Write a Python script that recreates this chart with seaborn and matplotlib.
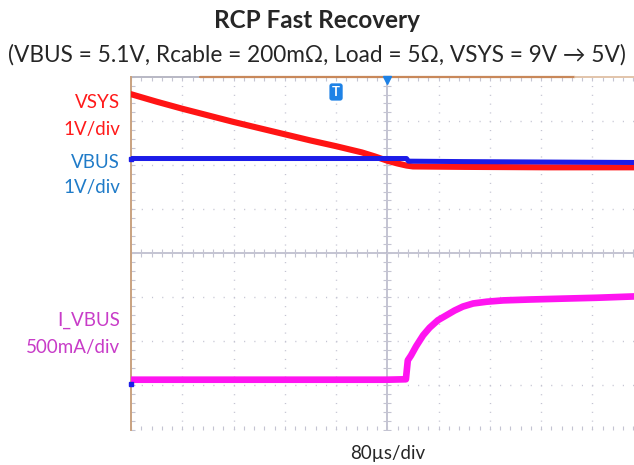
#--Import libraries--#
import numpy as np
import pandas as pd
import seaborn as sns
import matplotlib.pyplot as plt

#--Scope traces (time in us, level in divisions)--#
vsys_t = [-400, -360, -320, -280, -240, -200, -160, -120, -80, -40, -20, 0, 15, 30, 40, 120, 250, 385]
vsys_v = [3.61, 3.44, 3.28, 3.13, 2.98, 2.84, 2.70, 2.56, 2.43, 2.29, 2.20, 2.10, 2.04, 1.99, 1.97, 1.96, 1.95, 1.95]

vbus_t = [-400, -200, 0, 30, 33, 120, 250, 385]
vbus_v = [2.15, 2.15, 2.15, 2.15, 2.09, 2.08, 2.07, 2.06]

ibus_t = [-400, 0, 29, 32, 37, 45, 56, 66, 79, 92, 105, 118, 134, 155, 181, 222, 274, 327, 385]
ibus_v = [-2.87, -2.87, -2.86, -2.43, -2.32, -2.11, -1.86, -1.69, -1.52, -1.41, -1.30,
          -1.21, -1.14, -1.10, -1.07, -1.05, -1.03, -1.01, -0.98]

#--Labels--#
title = 'RCP Fast Recovery'
subtitle = '(VBUS = 5.1V, Rcable = 200m\u03A9, Load = 5\u03A9, VSYS = 9V \u2192 5V)'
ch_labels = [('VSYS', '1V/div', '#FF1A1A'),
             ('VBUS', '1V/div', '#1F7BC8'),
             ('I_VBUS', '500mA/div', '#C83CC8')]
time_label = '80\u00b5s/div'

#--Style--#
sns.set_style('white')
plt.rcParams['font.family'] = ['Lato', 'DejaVu Sans']

W, H = 634, 465
fig = plt.figure(figsize=(W / 100, H / 100), dpi=100)
ax = fig.add_axes([131 / W, 1 - 429.5 / H, (634 - 131) / W, (429.5 - 77) / H])
ax.set_xlim(-400, 385)
ax.set_ylim(-4, 4)

#--Oscilloscope graticule--#
grid_c = '#c4c4d2'
for t in np.arange(-320, 400, 80):
    if t != 0:
        ax.axvline(t, color=grid_c, lw=1, ls=(0, (0.8, 5.54)), zorder=0)
for y in range(-3, 4):
    if y != 0:
        ax.axhline(y, color=grid_c, lw=1, ls=(0, (0.8, 6.57)), zorder=0)
ax.axvline(0, color='#b4b4c6', lw=1.1, zorder=0)
ax.axhline(0, color='#b4b4c6', lw=1.1, zorder=0)
minor_x = np.arange(-400, 400, 16)
minor_y = np.arange(-4, 4.01, 0.2)
ax.plot(minor_x, np.zeros_like(minor_x), ls='none', marker='|', ms=6, mew=0.8, color=grid_c, zorder=0)
ax.plot(np.zeros_like(minor_y), minor_y, ls='none', marker='_', ms=6, mew=0.8, color=grid_c, zorder=0)

ax.set_xticks([])
ax.set_yticks([])
ax.set_xticks(minor_x, minor=True)
ax.set_yticks(minor_y, minor=True)
ax.tick_params(which='minor', direction='in', length=3, width=0.8, color=grid_c,
               top=True, bottom=True, left=True, right=False,
               labelbottom=False, labelleft=False)
for s in ['top', 'right', 'bottom']:
    ax.spines[s].set_visible(False)
ax.spines['left'].set_color('#c9a280')
ax.spines['left'].set_linewidth(1.4)
ax.axhline(4, xmin=0, xmax=0.137, color='#b8b8c4', lw=1.4, clip_on=False)
ax.axhline(4, xmin=0.137, xmax=0.883, color='#c8885a', lw=1.6, clip_on=False)
ax.axhline(4, xmin=0.883, xmax=1, color='#e2c4aa', lw=1.4, clip_on=False)

#--Traces--#
df_vsys = pd.DataFrame({'t': vsys_t, 'v': vsys_v})
df_vbus = pd.DataFrame({'t': vbus_t, 'v': vbus_v})
df_ibus = pd.DataFrame({'t': ibus_t, 'v': ibus_v})
sns.lineplot(data=df_vsys, x='t', y='v', color='#FF1414', lw=4.4, ax=ax, zorder=3)
sns.lineplot(data=df_vbus, x='t', y='v', color='#1C1CE8', lw=3.6, ax=ax, zorder=4)
sns.lineplot(data=df_ibus, x='t', y='v', color='#FF14F0', lw=4.8, ax=ax, zorder=4)
ax.set_xlabel('')
ax.set_ylabel('')

#--Trigger markers--#
ax.text(-80, 3.66, 'T', ha='center', va='center', color='white', fontsize=9.5, fontweight='bold',
        bbox=dict(boxstyle='round,pad=0.2', fc='#1E82E6', ec='none'), zorder=6)
ax.plot([0], [3.93], marker='v', ms=6, color='#1E82E6', clip_on=False, zorder=6)
ax.plot([-400], [vbus_v[0]], marker='s', ms=3, color='#1C1CE8', clip_on=False, zorder=6)
ax.plot([-400], [ibus_v[0] - 0.1], marker='s', ms=3, color='#1C1CE8', clip_on=False, zorder=6)

#--Text--#
fig.text(317 / W, 1 - 20 / H, title, ha='center', va='center', fontsize=17.5, fontweight='bold')
fig.text(317 / W, 1 - 55 / H, subtitle, ha='center', va='center', fontsize=16.3)
label_y = [(103, 130), (162, 188), (320, 347)]
for (name, scale, c), (y1, y2) in zip(ch_labels, label_y):
    fig.text(120 / W, 1 - y1 / H, name, ha='right', va='center', fontsize=13.5, color=c)
    fig.text(120 / W, 1 - y2 / H, scale, ha='right', va='center', fontsize=13.5, color=c)
fig.text(388 / W, 1 - 453 / H, time_label, ha='center', va='center', fontsize=13.5)

fig.savefig('out.png', dpi=100)
